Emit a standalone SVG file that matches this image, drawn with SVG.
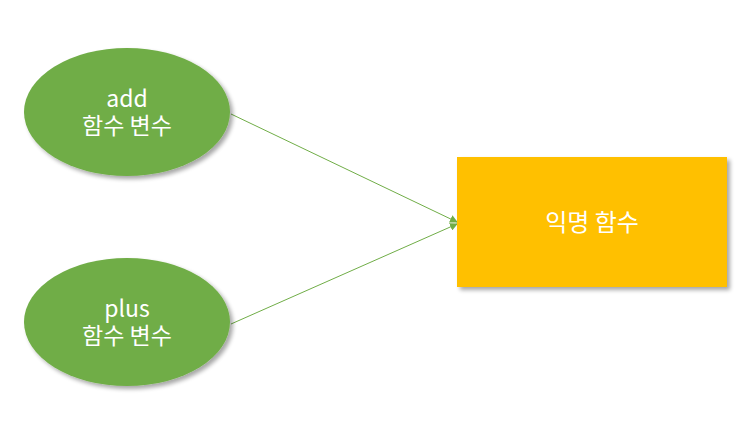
<svg xmlns="http://www.w3.org/2000/svg" width="751" height="438" viewBox="0 0 751 438">
<style>
.t{font-family:"Malgun Gothic","Noto Sans CJK KR","Noto Sans",sans-serif;font-size:23px;fill:#fff;text-anchor:middle}
.ell{fill:#70AD47}
.c{stroke:#70AD47;stroke-width:1;fill:none}
</style>
<defs>
<filter id="sh" x="-10%" y="-10%" width="125%" height="125%">
<feGaussianBlur in="SourceAlpha" stdDeviation="2"/>
<feOffset dx="3" dy="3" result="b"/>
<feComponentTransfer><feFuncA type="linear" slope="0.35"/></feComponentTransfer>
<feMerge><feMergeNode/><feMergeNode in="SourceGraphic"/></feMerge>
</filter>
<marker id="ah" markerWidth="8" markerHeight="8" refX="7" refY="4" orient="auto" markerUnits="userSpaceOnUse">
<path d="M0,0 L8,4 L0,8 Z" fill="#70AD47"/>
</marker>
</defs>
<g id="connectors">
<line class="c" x1="231" y1="114" x2="457" y2="222" marker-end="url(#ah)"/>
<line class="c" x1="231" y1="324" x2="457" y2="224" marker-end="url(#ah)"/>
</g>
<g id="add">
<ellipse class="ell" cx="127" cy="112" rx="103" ry="64" filter="url(#sh)"/>
<text class="t"><tspan x="127" y="107">add</tspan><tspan x="127" y="134">함수 변수</tspan></text>
</g>
<g id="plus">
<ellipse class="ell" cx="127" cy="322" rx="103" ry="64" filter="url(#sh)"/>
<text class="t"><tspan x="127" y="317">plus</tspan><tspan x="127" y="344">함수 변수</tspan></text>
</g>
<g id="anon">
<rect x="457" y="157" width="270" height="130" fill="#FFC000" filter="url(#sh)"/>
<text class="t" x="592" y="231" style="font-size:24px">익명 함수</text>
</g>
</svg>
